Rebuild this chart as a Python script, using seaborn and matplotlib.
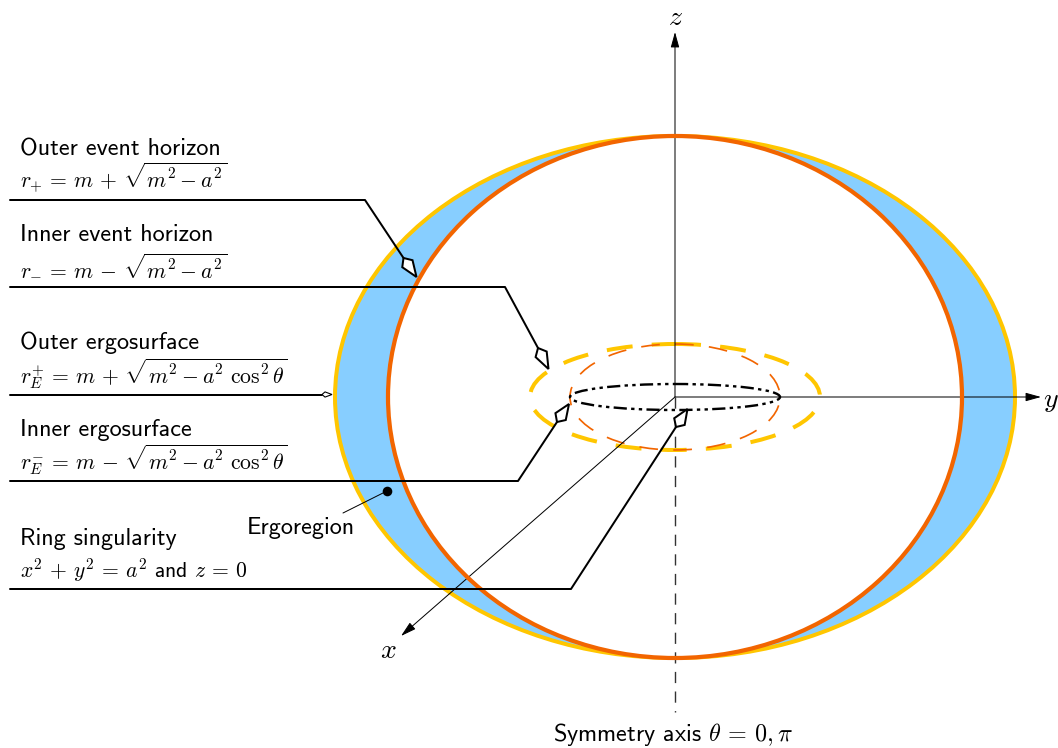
import numpy as np
import matplotlib
matplotlib.use("Agg")
import matplotlib.pyplot as plt
from matplotlib.patches import Ellipse, Polygon
import seaborn as sns

sns.set_theme(style="white")
plt.rcParams['font.family'] = ['cmss10', 'DejaVu Sans']
plt.rcParams['mathtext.fontset'] = 'cm'
plt.rcParams['axes.formatter.use_mathtext'] = True

# Geometry (pixel-like diagram units)
centre = (675, 397)
outer_ergo_radii = (340, 261)
outer_horizon_radii = (287, 261)
inner_ergo_radii = (145, 53)
inner_horizon_radii = (105, 53)
ring_radii = (105, 13)

leader_x = [[10, 365, 403.5], [10, 505, 538], [10, 322], [10, 518, 557], [10, 571, 676]]
leader_y = [[200, 200, 258], [287, 287, 348], [394.5, 394.5], [481, 481, 422], [589, 589, 427]]
leader_tip_x = [416.5, 548.5, 332, 569, 687.5]
leader_tip_y = [277, 369, 394.5, 404, 409]

titles = ["Outer event horizon", "Inner event horizon", "Outer ergosurface",
          "Inner ergosurface", "Ring singularity"]
title_base = [155, 241, 349, 436, 545]
formulas = [r"$r_{+}\,=\,m\,+\,\sqrt{m^2-a^2}$", r"$r_{-}\,=\,m\,-\,\sqrt{m^2-a^2}$",
            r"$r_{E}^{+}\,=\,m\,+\,\sqrt{m^2-a^2\ \cos^2\theta}$",
            r"$r_{E}^{-}\,=\,m\,-\,\sqrt{m^2-a^2\ \cos^2\theta}$",
            r"$x^2\,+\,y^2\,=\,a^2$ and $z\,=\,0$"]
formula_base = [189, 276, 383, 469, 578]

BLUE, YELLOW, ORANGE = "#87CEFF", "#FFC600", "#F26500"

fig = plt.figure(figsize=(10.58, 7.48), dpi=100)
ax = fig.add_axes([0, 0, 1, 1])
ax.set_xlim(0, 1058)
ax.set_ylim(748, 0)
ax.axis("off")
PX = 0.72

def ellipse(radii, **kw):
    ax.add_patch(Ellipse(centre, 2 * radii[0], 2 * radii[1], **kw))

ellipse(outer_ergo_radii, fc=BLUE, ec=YELLOW, lw=4 * PX, zorder=1)
ellipse(outer_horizon_radii, fc="white", ec="none", zorder=2)
ellipse(outer_horizon_radii, fc="none", ec=ORANGE, lw=4.2 * PX, zorder=5)
ellipse(inner_ergo_radii, fc="none", ec=YELLOW, lw=4 * PX, ls=(0, (6.5, 4.8)), zorder=3)
ellipse(inner_horizon_radii, fc="none", ec=ORANGE, lw=1.7 * PX, ls=(0, (11, 9)), zorder=3.1)
ellipse(ring_radii, fc="none", ec="black", lw=2.4 * PX, ls=(0, (5.5, 1.8, 1.4, 1.8, 1.4, 1.8)), zorder=4)

# Axes
def arrow(tip, start, lw=1.0):
    ax.annotate("", xy=tip, xytext=start, zorder=4,
                arrowprops=dict(arrowstyle="-|>,head_length=0.47,head_width=0.13",
                                color="black", lw=lw * PX, shrinkA=0, shrinkB=0, mutation_scale=20))

arrow((675, 32), centre)
arrow((1041, 397), centre)
arrow((401, 636), centre)
sns.lineplot(x=[675, 675], y=[397, 712], ax=ax, color="#333333", lw=1.4 * PX,
             linestyle=(0, (8, 6)), sort=False, estimator=None, zorder=4)

# Leaders with kite heads
def kite(tip, rear, wide_at, half, lw):
    tip, rear = np.array(tip, float), np.array(rear, float)
    d = tip - rear
    n = np.array([-d[1], d[0]]) / np.hypot(*d)
    m = rear + d * wide_at
    ax.add_patch(Polygon([rear, m + n * half, tip, m - n * half], closed=True,
                         fc="white", ec="black", lw=lw * PX, joinstyle="miter", zorder=7))

for i, (lx, ly) in enumerate(zip(leader_x, leader_y)):
    sns.lineplot(x=lx, y=ly, ax=ax, color="black", lw=2.0 * PX, sort=False,
                 estimator=None, zorder=6)
    small = i == 2
    kite((leader_tip_x[i], leader_tip_y[i]), (lx[-1], ly[-1]),
         0.3, 2.6 if small else 6.2, 1.1 if small else 2.0)

# Ergoregion pointer
sns.lineplot(x=[343, 387], y=[513, 491], ax=ax, color="black", lw=1.0 * PX,
             sort=False, estimator=None, zorder=6)
sns.scatterplot(x=[387], y=[491], ax=ax, color="black", s=48, zorder=7, linewidth=0)

FS = 17.4
MS = 15.6
for t, b in zip(titles, title_base):
    ax.text(20, b, t, fontsize=FS, va="baseline", ha="left", color="black")
for t, b in zip(formulas, formula_base):
    ax.text(20, b, t, fontsize=MS, va="baseline", ha="left", color="black")
ax.text(247, 534, "Ergoregion", fontsize=FS, va="baseline", ha="left", color="black")
ax.text(553, 741, r"Symmetry axis $\theta\,=\,0,\pi$", fontsize=FS, va="baseline", ha="left", color="black")
ax.text(675.5, 25, r"$z$", fontsize=20, ha="center", va="baseline", color="black")
ax.text(1051, 407, r"$y$", fontsize=20, ha="center", va="baseline", color="black")
ax.text(388, 658, r"$x$", fontsize=20, ha="center", va="baseline", color="black")

fig.savefig("out.png", dpi=100, facecolor="white")
